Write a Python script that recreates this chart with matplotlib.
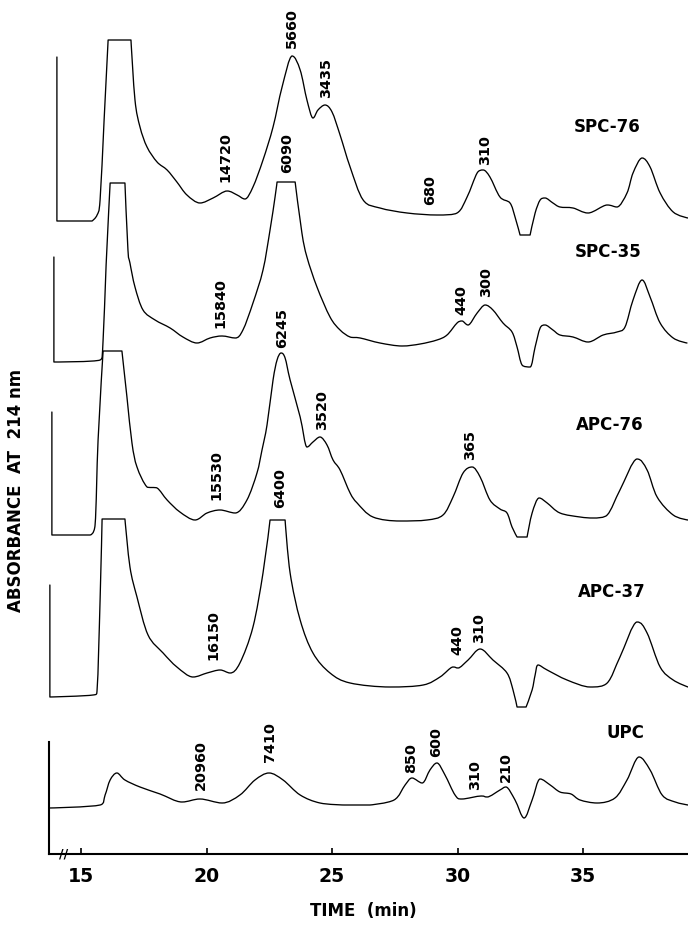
import matplotlib
matplotlib.use("Agg")
import matplotlib.pyplot as plt
from matplotlib import font_manager
from matplotlib.path import Path
from matplotlib.patches import PathPatch
import numpy as np

# retention time (min) and absorbance (arbitrary units above each trace's baseline)
spc76_t = [14.04, 14.04, 15.44, 15.64, 15.76, 15.92, 16.08, 16.99, 17.15, 17.35, 17.63, 18.03,
           18.43, 18.82, 19.22, 19.74, 20.26, 20.82, 21.22, 21.53, 21.85, 22.25, 22.65, 23.01,
           23.41, 23.73, 24.00, 24.24, 24.44, 24.72, 25.00, 25.32, 25.72, 26.24, 26.91, 27.99,
           29.18, 29.98, 30.38, 30.78, 31.02, 31.29, 31.69, 32.09, 32.29, 32.49, 32.89, 33.09,
           33.29, 33.49, 33.80, 34.08, 34.60, 35.20, 35.96, 36.35, 36.75, 36.99, 37.35, 37.67,
           38.07, 38.59, 39.18]
spc76_a = [1.64, 0.00, 0.00, 0.06, 0.21, 1.01, 1.81, 1.81, 1.21, 0.94, 0.74, 0.59,
           0.51, 0.39, 0.26, 0.18, 0.23, 0.30, 0.26, 0.22, 0.34, 0.61, 0.94, 1.34,
           1.65, 1.51, 1.21, 1.03, 1.11, 1.16, 1.09, 0.86, 0.54, 0.21, 0.13, 0.08,
           0.06, 0.08, 0.24, 0.48, 0.51, 0.44, 0.24, 0.18, 0.04, -0.14, -0.14, 0.08,
           0.21, 0.23, 0.18, 0.14, 0.13, 0.08, 0.16, 0.14, 0.28, 0.48, 0.63, 0.54,
           0.28, 0.09, 0.03]

spc35_t = [13.92, 13.92, 15.76, 15.88, 16.00, 16.16, 16.75, 16.87, 16.95, 17.15, 17.47, 17.95,
           18.55, 19.06, 19.62, 20.14, 20.62, 21.14, 21.45, 21.85, 22.25, 22.53, 22.73, 22.81,
           23.53, 23.80, 24.00, 24.40, 24.92, 25.32, 25.72, 26.12, 26.91, 27.79, 28.51, 29.18,
           29.58, 29.98, 30.18, 30.42, 30.78, 31.10, 31.41, 31.81, 32.17, 32.37, 32.57, 32.89,
           33.09, 33.29, 33.49, 33.80, 34.08, 34.60, 35.20, 35.80, 36.35, 36.67, 36.99, 37.35,
           37.67, 38.07, 38.59, 39.14]
spc35_a = [1.05, 0.00, 0.02, 0.22, 0.97, 1.79, 1.79, 1.12, 0.99, 0.75, 0.52, 0.42,
           0.34, 0.25, 0.19, 0.24, 0.26, 0.24, 0.32, 0.59, 0.92, 1.32, 1.65, 1.80,
           1.80, 1.29, 1.05, 0.75, 0.45, 0.32, 0.25, 0.24, 0.19, 0.16, 0.18, 0.22,
           0.27, 0.39, 0.41, 0.37, 0.49, 0.57, 0.52, 0.39, 0.30, 0.15, -0.03, -0.05,
           0.15, 0.34, 0.37, 0.32, 0.27, 0.25, 0.20, 0.27, 0.30, 0.35, 0.62, 0.82,
           0.65, 0.39, 0.24, 0.19]

apc76_t = [13.84, 13.84, 15.36, 15.56, 15.68, 15.88, 16.63, 16.83, 17.03, 17.23, 17.63, 18.03,
           18.43, 18.94, 19.54, 20.02, 20.54, 21.14, 21.61, 22.01, 22.21, 22.41, 22.65, 22.81,
           22.97, 23.13, 23.33, 23.73, 24.00, 24.24, 24.52, 24.80, 25.04, 25.32, 25.72, 26.00,
           26.63, 27.71, 28.78, 29.42, 29.82, 30.22, 30.58, 30.90, 31.29, 31.69, 31.97, 32.17,
           32.37, 32.77, 32.97, 33.25, 33.57, 34.08, 34.88, 35.40, 35.96, 36.47, 37.15, 37.55,
           37.95, 38.59, 39.18]
apc76_a = [1.23, 0.00, 0.00, 0.10, 0.95, 1.84, 1.84, 1.38, 0.92, 0.68, 0.48, 0.47,
           0.35, 0.23, 0.15, 0.22, 0.25, 0.22, 0.35, 0.62, 0.85, 1.10, 1.55, 1.75,
           1.82, 1.77, 1.55, 1.18, 0.88, 0.93, 0.98, 0.90, 0.75, 0.65, 0.42, 0.32,
           0.18, 0.14, 0.15, 0.20, 0.38, 0.62, 0.68, 0.58, 0.35, 0.26, 0.22, 0.08,
           -0.02, -0.02, 0.22, 0.37, 0.32, 0.22, 0.18, 0.17, 0.20, 0.45, 0.76, 0.65,
           0.38, 0.20, 0.15]

apc37_t = [13.76, 13.76, 15.48, 15.64, 15.76, 15.84, 16.75, 16.95, 17.23, 17.67, 18.27, 18.82,
           19.46, 20.02, 20.54, 20.94, 21.33, 21.85, 22.25, 22.53, 23.13, 23.33, 23.73, 24.24,
           24.92, 25.72, 27.31, 28.63, 29.30, 29.82, 30.02, 30.42, 30.90, 31.41, 31.97, 32.21,
           32.37, 32.73, 32.97, 33.09, 33.21, 33.57, 34.36, 35.28, 35.96, 36.47, 37.15, 37.55,
           38.07, 38.59, 39.18]
apc37_a = [1.12, 0.00, 0.02, 0.07, 0.97, 1.78, 1.78, 1.30, 1.00, 0.62, 0.44, 0.30,
           0.20, 0.24, 0.27, 0.24, 0.34, 0.70, 1.24, 1.77, 1.77, 1.24, 0.77, 0.44,
           0.24, 0.14, 0.10, 0.12, 0.20, 0.30, 0.29, 0.37, 0.48, 0.37, 0.24, 0.07,
           -0.10, -0.10, 0.07, 0.22, 0.32, 0.27, 0.17, 0.10, 0.14, 0.40, 0.75, 0.64,
           0.30, 0.17, 0.10]

upc_t = [13.73, 15.76, 15.96, 16.16, 16.43, 16.75, 17.35, 18.15, 19.02, 19.74, 20.62, 21.33,
         21.93, 22.49, 23.05, 23.73, 24.52, 25.48, 26.51, 27.47, 27.91, 28.19, 28.59, 28.90,
         29.18, 29.50, 29.90, 30.18, 30.94, 31.18, 31.69, 31.93, 32.29, 32.65, 32.97, 33.29,
         33.69, 34.08, 34.52, 34.88, 35.56, 36.27, 36.75, 37.23, 37.67, 38.15, 38.67, 39.18]
upc_a = [0.00, 0.03, 0.13, 0.28, 0.35, 0.28, 0.21, 0.14, 0.06, 0.09, 0.05, 0.13,
         0.28, 0.35, 0.28, 0.13, 0.05, 0.03, 0.03, 0.08, 0.23, 0.30, 0.25, 0.38,
         0.45, 0.33, 0.13, 0.09, 0.12, 0.11, 0.18, 0.21, 0.08, -0.10, 0.08, 0.29,
         0.23, 0.16, 0.14, 0.08, 0.05, 0.10, 0.28, 0.51, 0.38, 0.13, 0.06, 0.03]

names = ["SPC-76", "SPC-35", "APC-76", "APC-37", "UPC"]
offsets = [6.33, 4.92, 3.19, 1.57, 0.46]

# molecular weights written next to the peaks
spc76_mw = ["5660", "3435", "14720", "680", "310"]
spc76_mw_t = [23.41, 24.76, 20.74, 28.90, 31.10]
spc35_mw = ["6090", "15840", "440", "300"]
spc35_mw_t = [23.21, 20.54, 30.14, 31.14]
apc76_mw = ["6245", "3520", "15530", "365"]
apc76_mw_t = [23.01, 24.60, 20.38, 30.50]
apc37_mw = ["6400", "16150", "440", "310"]
apc37_mw_t = [22.93, 20.26, 29.98, 30.86]
upc_mw = ["20960", "7410", "850", "600", "310", "210"]
upc_mw_t = [19.78, 22.53, 28.15, 29.14, 30.70, 31.93]

# where the bottom of each number sits
spc76_mw_y = [8.06, 7.56, 6.72, 6.49, 6.89]
spc35_mw_y = [6.81, 5.26, 5.39, 5.57]
apc76_mw_y = [5.06, 4.24, 3.54, 3.94]
apc37_mw_y = [3.46, 1.94, 1.99, 2.11]
upc_mw_y = [0.64, 0.92, 0.81, 0.97, 0.64, 0.72]
name_t = [35.96, 36.00, 36.08, 36.16, 36.67]
name_y = [7.27, 6.02, 4.29, 2.62, 1.21]


def fit_in_box(p, v, lo, hi):
    # shorten v (keeping its direction) so p + v stays between lo and hi
    s = 1.0
    for c in range(2):
        if v[c] > 0:
            s = min(s, (hi[c] - p[c]) / v[c])
        elif v[c] < 0:
            s = min(s, (lo[c] - p[c]) / v[c])
    return p + max(s, 0.0) * v


def pen_trace(t, a):
    # smooth pen-recorder look: cubic segments through the read points
    p = np.column_stack([t, a]).astype(float)
    n = len(p)
    d = np.zeros_like(p)
    for i in range(1, n - 1):
        corner = (t[i] == t[i - 1] or t[i] == t[i + 1] or
                  a[i] == a[i - 1] or a[i] == a[i + 1])
        if corner:
            continue
        d[i] = (p[i + 1] - p[i - 1]) / 6
        if (a[i] - a[i - 1]) * (a[i + 1] - a[i]) <= 0:
            d[i][1] = 0.0
    verts = [p[0]]
    codes = [Path.MOVETO]
    for i in range(n - 1):
        p1, p2 = p[i], p[i + 1]
        lo, hi = np.minimum(p1, p2), np.maximum(p1, p2)
        c1 = fit_in_box(p1, d[i], lo, hi)
        c2 = fit_in_box(p2, -d[i + 1], lo, hi)
        verts += [c1, c2, p2]
        codes += [Path.CURVE4] * 3
    return Path(np.array(verts), codes)


avail = {f.name for f in font_manager.fontManager.ttflist}
if "Liberation Sans Narrow" in avail:
    fam, k = "Liberation Sans Narrow", 1.0
else:
    fam, k = "DejaVu Sans", 0.8
plt.rcParams["font.family"] = fam
plt.rcParams["font.weight"] = "bold"

fig = plt.figure(figsize=(6.88, 9.25), dpi=100)
ax = fig.add_axes([49 / 688, 71 / 925, 639 / 688, 854 / 925])

traces = [(spc76_t, spc76_a), (spc35_t, spc35_a), (apc76_t, apc76_a),
          (apc37_t, apc37_a), (upc_t, upc_a)]
for (t, a), off in zip(traces, offsets):
    path = pen_trace(t, [v + off for v in a])
    ax.add_patch(PathPatch(path, facecolor="none", edgecolor="black", lw=0.95,
                           joinstyle="round", capstyle="round"))

labels = [(spc76_mw, spc76_mw_t, spc76_mw_y), (spc35_mw, spc35_mw_t, spc35_mw_y),
          (apc76_mw, apc76_mw_t, apc76_mw_y), (apc37_mw, apc37_mw_t, apc37_mw_y),
          (upc_mw, upc_mw_t, upc_mw_y)]
for mw, mt, my in labels:
    for s, t, y in zip(mw, mt, my):
        ax.text(t, y, s, rotation=90, ha="center", va="bottom", fontsize=13 * k,
                fontweight="bold")

for s, t, y in zip(names, name_t, name_y):
    ax.text(t, y, s, ha="center", va="center", fontsize=15 * k, fontweight="bold")

ax.set_xlim(13.725, 39.18)
ax.set_ylim(0, 8.54)
ax.spines["top"].set_visible(False)
ax.spines["right"].set_visible(False)
ax.spines["left"].set_bounds(0, 1.12)
ax.spines["left"].set_linewidth(1.5)
ax.spines["bottom"].set_linewidth(1.5)
ax.set_yticks([])
ax.set_xticks([15, 20, 25, 30, 35])
ax.tick_params(axis="x", direction="in", length=4, width=1.2, pad=9, labelsize=17 * k)
for lb in ax.get_xticklabels():
    lb.set_fontweight("bold")
ax.text(14.3, 0, "//", ha="center", va="center", fontsize=9, fontweight="bold")

fig.text(363 / 688, 1 - 911 / 925, "TIME  (min)", ha="center", va="center",
         fontsize=15 * k, fontweight="bold")
fig.text(16 / 688, 1 - 490 / 925, "ABSORBANCE  AT  214 nm", rotation=90,
         ha="center", va="center", fontsize=15 * k, fontweight="bold")

fig.savefig("out.png", dpi=100)
